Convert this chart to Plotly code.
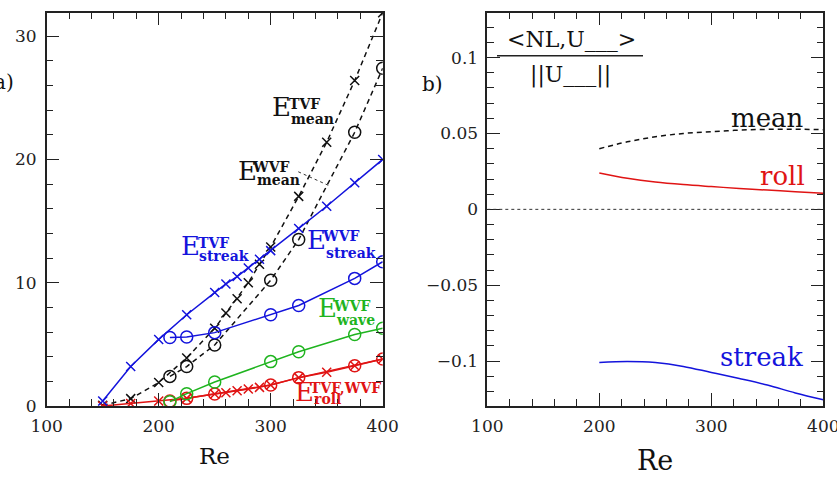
import plotly.graph_objects as go

# ---------------- data: panel a) ----------------
re_tvf = [150, 175, 200, 225, 250, 260, 270, 280, 290, 300, 325, 350, 375, 400]
e_streak_tvf = [0.4, 3.2, 5.4, 7.4, 9.2, 9.9, 10.5, 11.2, 11.9, 12.6, 14.4, 16.2, 18.1, 20.0]
e_mean_tvf = [0.05, 0.6, 1.9, 3.9, 6.3, 7.55, 8.7, 10.0, 11.5, 12.9, 17.0, 21.4, 26.4, 31.9]
e_roll_tvf = [0.0, 0.2, 0.4, 0.62, 0.97, 1.08, 1.24, 1.38, 1.51, 1.7, 2.3, 2.73, 3.27, 3.81]

re_wvf = [210, 225, 250, 300, 325, 375, 400]
e_streak_wvf = [5.55, 5.6, 5.95, 7.4, 8.15, 10.35, 11.7]
e_mean_wvf = [2.4, 3.2, 4.95, 10.2, 13.5, 22.2, 27.4]
e_wave_wvf = [0.35, 1.0, 1.95, 3.6, 4.4, 5.8, 6.3]
e_roll_wvf = [0.4, 0.62, 0.97, 1.7, 2.3, 3.27, 3.81]

# ---------------- data: panel b) ----------------
re_b = [200, 225, 250, 275, 300, 325, 350, 375, 400]
nl_mean = [0.0400, 0.0445, 0.0478, 0.0500, 0.0512, 0.0522, 0.0527, 0.0528, 0.0525]
nl_roll = [0.0240, 0.0205, 0.0180, 0.0163, 0.0150, 0.0138, 0.0127, 0.0116, 0.0106]
nl_streak = [-0.1010, -0.1003, -0.1010, -0.1035, -0.1075, -0.1115, -0.1158, -0.1210, -0.1255]

x_ticks = [100, 200, 300, 400]
ya_ticks = [0, 10, 20, 30]
yb_ticks = [-0.1, -0.05, 0, 0.05, 0.1]
yb_ticktext = ["\u22120.1", "\u22120.05", "0", "0.05", "0.1"]

BLUE = "#1414dc"
GREEN = "#1fb41f"
RED = "#e01414"
BLACK = "#111111"
SERIF = "DejaVu Serif"

fig = go.Figure()

def xline(x, y, color, dash="solid", xa="x", ya="y"):
    fig.add_trace(go.Scatter(x=x, y=y, mode="lines+markers", xaxis=xa, yaxis=ya,
                             line=dict(color=color, width=1.5, dash=dash),
                             marker=dict(symbol="x-thin", size=9,
                                         line=dict(color=color, width=1.5)),
                             showlegend=False, hoverinfo="skip"))

def oline(x, y, color, dash="solid", xa="x", ya="y"):
    fig.add_trace(go.Scatter(x=x, y=y, mode="lines+markers", xaxis=xa, yaxis=ya,
                             line=dict(color=color, width=1.5, dash=dash),
                             marker=dict(symbol="circle-open", size=12,
                                         line=dict(color=color, width=1.5)),
                             showlegend=False, hoverinfo="skip"))

DASH = "5px,4px"
oline(re_wvf, e_mean_wvf, BLACK, DASH)
xline(re_tvf, e_mean_tvf, BLACK, DASH)
xline(re_tvf, e_roll_tvf, RED)
oline(re_wvf, e_roll_wvf, RED)
oline(re_wvf, e_wave_wvf, GREEN)
oline(re_wvf, e_streak_wvf, BLUE)
xline(re_tvf, e_streak_tvf, BLUE)

def curve(x, y, color, dash="solid"):
    fig.add_trace(go.Scatter(x=x, y=y, mode="lines", xaxis="x2", yaxis="y2",
                             line=dict(color=color, width=1.5, dash=dash, shape="spline"),
                             showlegend=False, hoverinfo="skip"))

curve(re_b, nl_mean, BLACK, DASH)
curve(re_b, nl_roll, RED)
curve(re_b, nl_streak, BLUE)

axis_common = dict(
    showline=True, linecolor="#222", linewidth=1.5, mirror="allticks",
    ticks="inside", ticklen=13, tickwidth=1.3, tickcolor="#222",
    showgrid=False, zeroline=False, automargin=False, ticklabeloverflow="allow",
    tickfont=dict(family=SERIF, size=17, color="#222"),
)

def minor(dt, t0):
    return dict(ticks="inside", ticklen=7, tickwidth=1.1, tickcolor="#222",
                showgrid=False, dtick=dt, tick0=t0)

ytop = 1 - 12.7 / 478
ybot = 1 - 406 / 478

fig.update_layout(
    width=837, height=478, autosize=False,
    margin=dict(l=0, r=0, t=0, b=0, pad=0, autoexpand=False),
    paper_bgcolor="white", plot_bgcolor="white",
    xaxis=dict(axis_common, range=[100, 400], tickvals=x_ticks, ticklabelstandoff=4,
               domain=[46.7 / 837, 382.7 / 837], anchor="y", minor=minor(20, 100)),
    yaxis=dict(axis_common, range=[0, 31.9], tickvals=ya_ticks, ticklabelstandoff=5,
               domain=[ybot, ytop], anchor="x", minor=minor(2, 0)),
    xaxis2=dict(axis_common, range=[100, 400], tickvals=x_ticks, ticklabelstandoff=4,
                domain=[487.3 / 837, 823.3 / 837], anchor="y2", minor=minor(20, 100)),
    yaxis2=dict(axis_common, range=[-0.1296, 0.1296], tickvals=yb_ticks, ticktext=yb_ticktext,
                ticklabelstandoff=4,
                domain=[ybot, ytop], anchor="x2", minor=minor(0.01, 0)),
)

# zero dotted line in panel b
fig.add_shape(type="line", xref="x2", yref="y2", x0=100, x1=400, y0=0, y1=0,
              line=dict(color="#333", width=1, dash="dot"))

ann = []

def txt(x, y, s, size, color=BLACK, xref="x", yref="y", family=SERIF, xanchor="center"):
    ann.append(dict(x=x, y=y, xref=xref, yref=yref, text=s, showarrow=False,
                    xanchor=xanchor, yanchor="middle",
                    font=dict(family=family, size=size, color=color)))

def elabel(xE, yE, sup, xsup, ysup, sub, xsub, ysub, color):
    txt(xE, yE, "E", 26, color)
    txt(xsup, ysup - 0.15, "<b>" + sup + "</b>", 14, color)
    txt(xsub, ysub, "<b>" + sub + "</b>", 14, color)

elabel(310, 24.25, "TVF", 330.6, 24.65, "mean", 336.9, 23.3, BLACK)
elabel(279.7, 19.1, "WVF", 300.7, 19.5, "mean", 307.4, 18.3, BLACK)
elabel(228, 13.0, "TVF", 248.7, 13.4, "streak", 258.3, 12.2, BLUE)
elabel(341, 13.46, "WVF", 362.8, 13.9, "streak", 371.7, 12.45, BLUE)
elabel(351, 7.95, "WVF", 372.6, 8.27, "wave", 376, 7.0, GREEN)
elabel(330.6, 1.14, "TVF,WVF", 367, 1.62, "roll", 351, 0.57, RED)

# leader line for E_mean^WVF
fig.add_shape(type="line", xref="x", yref="y", x0=324.6, y0=19.0, x1=351.4, y1=17.9,
              line=dict(color="#333", width=1, dash="dot"))

txt(350.6, 0.0605, "mean", 26, BLACK, "x2", "y2")
txt(364, 0.0219, "roll", 26, RED, "x2", "y2")
txt(345, -0.0976, "streak", 26, BLUE, "x2", "y2")

# fraction label
txt(571 / 837, 1 - 39 / 478, "&lt;NL,U___&gt;", 22, BLACK, "paper", "paper")
txt(570 / 837, 1 - 75 / 478, "||U___||", 22, BLACK, "paper", "paper")
fig.add_shape(type="line", xref="paper", yref="paper", x0=497 / 837, x1=643 / 837,
              y0=1 - 55.7 / 478, y1=1 - 55.7 / 478, line=dict(color="#222", width=1.5))

txt(16 / 837, 1 - 82.5 / 478, "a)", 20, BLACK, "paper", "paper", xanchor="right")
txt(432 / 837, 1 - 84 / 478, "b)", 20, BLACK, "paper", "paper")

txt(214 / 837, 1 - 456 / 478, "Re", 23, BLACK, "paper", "paper")
txt(655 / 837, 1 - 460 / 478, "Re", 27, BLACK, "paper", "paper")

fig.update_layout(annotations=ann)

fig.write_html("out.html")
